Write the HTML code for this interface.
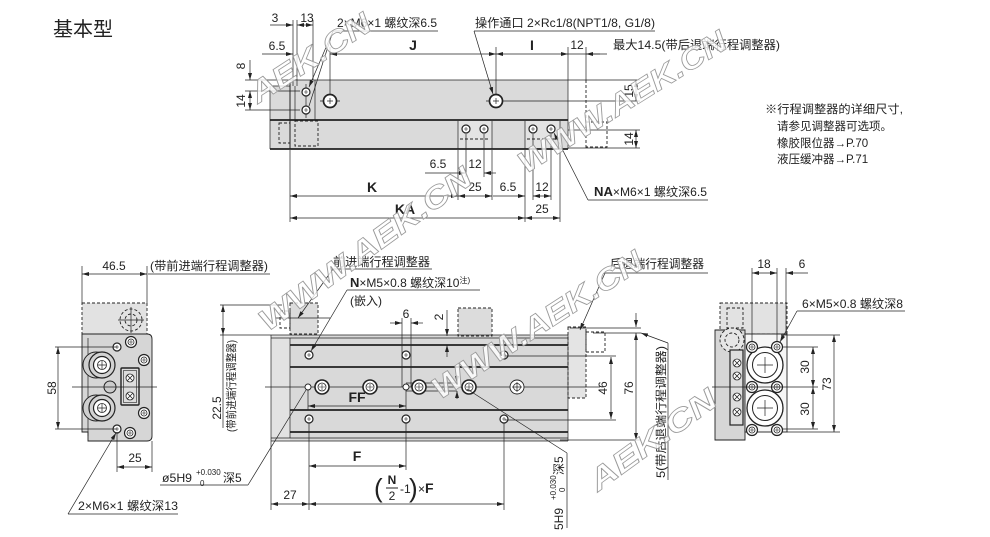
<!DOCTYPE html>
<html><head><meta charset="utf-8"><style>
html,body{margin:0;padding:0;background:#fff;}
svg{display:block;}
.t{stroke:#222;stroke-width:0.7;fill:none}
.m{stroke:#222;stroke-width:1;fill:none}
.k{stroke:#222;stroke-width:1.7;fill:none}
.ds{stroke:#222;stroke-width:0.9;stroke-dasharray:3 2}
.d{stroke:#222;stroke-width:0.7;fill:none;marker-start:url(#a);marker-end:url(#a)}
.e{stroke:#222;stroke-width:0.7;fill:none;marker-end:url(#a)}
text{fill:#222;font-size:12px;font-family:"Liberation Sans","Noto Sans CJK SC",sans-serif}
.b{font-weight:bold;font-size:14px}
.wm text{font-family:"Liberation Sans",sans-serif;font-weight:bold;font-style:italic;font-size:30px;fill:#fff;fill-opacity:0.8;stroke:#9a9a9a;stroke-width:0.8}
</style></head><body>
<svg width="990" height="537" viewBox="0 0 990 537" xmlns="http://www.w3.org/2000/svg">
<defs>
<marker id="a" markerUnits="userSpaceOnUse" markerWidth="8" markerHeight="6" refX="7" refY="3" orient="auto-start-reverse" viewBox="0 0 8 6"><path d="M0,1 L7,3 L0,5z" fill="#222"/></marker>
<g id="h1"><circle r="4" fill="#fff" stroke="#222" stroke-width="1.2"/><path d="M-2,0H2M0,-2V2" stroke="#222" stroke-width="0.6"/></g>
<g id="h2"><circle r="7" fill="#fff" stroke="#222" stroke-width="1.6"/><circle r="4" fill="none" stroke="#222" stroke-width="0.8"/><path d="M-3,0H3M0,-3V3" stroke="#222" stroke-width="0.6"/></g>
<g id="sc"><circle r="5.5" fill="#fff" stroke="#222" stroke-width="1.2"/><circle r="3" fill="none" stroke="#222" stroke-width="0.8"/><path d="M-2,0H2M0,-2V2" stroke="#222" stroke-width="0.6"/></g>
<g id="ox"><circle r="4" fill="#fff" stroke="#222" stroke-width="0.8"/><path d="M-2.6,-2.6L2.6,2.6M-2.6,2.6L2.6,-2.6" stroke="#222" stroke-width="0.8"/></g>
</defs>

<!-- title -->
<text x="53" y="36" style="font-size:20px">基本型</text>

<!-- ============ TOP VIEW ============ -->
<rect x="270" y="86" width="20" height="63" fill="#dadada"/>
<rect x="290" y="80" width="278" height="69" fill="#dadada"/>
<rect x="458" y="121" width="34" height="27" fill="#e3e3e3"/>
<rect x="525" y="121" width="35" height="27" fill="#e3e3e3"/>
<path class="t" d="M245,80H640 M272,86H290 M270,86V149 M568,80V149 M315,80V120 M295,86V120 M245,91H300 M245,110H300 M458,121V149 M492,121V149 M525,121V149 M560,121V149 M306,84V118 M320,101H340 M486,101H640 M568,130H640 M568,148H640"/>
<path class="m" d="M290,82V149"/>
<path class="k" d="M270,120H568 M270,149H568"/>
<path class="ds" fill="none" d="M460,139H490 M527,139H558 M279,123H290V143H279Z M295,121H318V146H295Z M586,80V148 M586,122H607V147H586"/>
<use href="#h1" x="306" y="92"/><use href="#h1" x="306" y="110"/>
<use href="#h1" x="466" y="129"/><use href="#h1" x="484" y="129"/>
<use href="#h1" x="533" y="129"/><use href="#h1" x="551" y="129"/>
<g fill="#fff" stroke="#222"><circle cx="330" cy="101" r="6.5" stroke-width="1.7"/><circle cx="496" cy="101" r="6.5" stroke-width="1.7"/></g>
<path class="t" d="M327,101H333M330,98V104 M493,101H499M496,98V104"/>
<!-- top view extension lines -->
<path class="t" d="M293,20V86 M297,20V86 M313,20V80 M330,47V95 M496,47V95 M568,47V80 M586,47V80 M290,150V222 M458,150V200 M466,134V177 M484,134V177 M492,150V200 M525,150V222 M533,134V200 M551,134V200 M560,150V222"/>
<!-- top dims -->
<line class="e" x1="270" y1="25" x2="293" y2="25"/>
<line class="d" x1="297" y1="25" x2="313" y2="25"/>
<text x="275" y="22" text-anchor="middle">3</text>
<text x="307" y="22" text-anchor="middle">13</text>
<line class="e" x1="262" y1="54" x2="293" y2="54"/>
<text x="277" y="50" text-anchor="middle">6.5</text>
<line class="d" x1="330" y1="54" x2="496" y2="54"/>
<text class="b" x="413" y="50" text-anchor="middle">J</text>
<line class="d" x1="496" y1="54" x2="568" y2="54"/>
<text class="b" x="532" y="50" text-anchor="middle">I</text>
<line class="e" x1="600" y1="54" x2="586" y2="54"/>
<line class="t" x1="568" y1="54" x2="607" y2="54"/>
<text x="577" y="49" text-anchor="middle">12</text>
<text x="613" y="49" textLength="167" lengthAdjust="spacingAndGlyphs">最大14.5(带后退端行程调整器)</text>
<text x="337" y="27" textLength="100" lengthAdjust="spacingAndGlyphs">2×M6×1 螺纹深6.5</text>
<path class="t" d="M333,31H438"/>
<line class="e" x1="333" y1="31" x2="309" y2="87"/>
<line class="t" x1="333" y1="31" x2="309" y2="106"/>
<text x="475" y="27" textLength="180" lengthAdjust="spacingAndGlyphs">操作通口 2×Rc1/8(NPT1/8, G1/8)</text>
<path class="t" d="M474,31H655"/>
<line class="e" x1="474" y1="31" x2="493" y2="94"/>
<!-- left 8/14 -->
<line class="e" x1="250" y1="60" x2="250" y2="80"/>
<line class="d" x1="250" y1="91" x2="250" y2="110"/>
<text transform="translate(245,66) rotate(-90)" text-anchor="middle">8</text>
<text transform="translate(245,101) rotate(-90)" text-anchor="middle">14</text>
<!-- right 15/14 -->
<line class="d" x1="636" y1="80" x2="636" y2="101"/>
<line class="d" x1="636" y1="130" x2="636" y2="148"/>
<text transform="translate(633,91) rotate(-90)" text-anchor="middle">15</text>
<text transform="translate(633,139) rotate(-90)" text-anchor="middle">14</text>
<!-- bottom dims -->
<line class="e" x1="425" y1="173" x2="466" y2="173"/>
<line class="e" x1="496" y1="173" x2="484" y2="173"/>
<text x="438" y="168" text-anchor="middle">6.5</text>
<text x="475" y="168" text-anchor="middle">12</text>
<line class="d" x1="290" y1="196" x2="458" y2="196"/>
<text class="b" x="372" y="192" text-anchor="middle">K</text>
<line class="d" x1="458" y1="196" x2="492" y2="196"/>
<text x="475" y="191" text-anchor="middle">25</text>
<line class="e" x1="493" y1="196" x2="525" y2="196"/>
<text x="508" y="191" text-anchor="middle">6.5</text>
<line class="d" x1="533" y1="196" x2="551" y2="196"/>
<text x="542" y="191" text-anchor="middle">12</text>
<line class="d" x1="290" y1="218" x2="525" y2="218"/>
<text class="b" x="405" y="214" text-anchor="middle">KA</text>
<line class="d" x1="525" y1="218" x2="560" y2="218"/>
<text x="542" y="213" text-anchor="middle">25</text>
<text x="594" y="196" textLength="113" lengthAdjust="spacingAndGlyphs"><tspan font-weight="bold" font-size="13">NA</tspan>×M6×1 螺纹深6.5</text>
<path class="t" d="M588,200H708"/>
<line class="e" x1="588" y1="200" x2="554" y2="133"/>

<!-- notes -->
<text x="765" y="113" style="font-size:11.5px" textLength="138" lengthAdjust="spacingAndGlyphs">※行程调整器的详细尺寸,</text>
<text x="777" y="130" style="font-size:11.5px">请参见调整器可选项。</text>
<text x="777" y="147" style="font-size:11.5px">橡胶限位器→P.70</text>
<text x="777" y="163" style="font-size:11.5px">液压缓冲器→P.71</text>

<!-- ============ BOTTOM LEFT END VIEW ============ -->
<rect x="82" y="303" width="65" height="31" fill="#e2e2e2" class="ds"/>
<circle cx="131" cy="320" r="11" fill="none" class="ds"/>
<circle cx="131" cy="320" r="6" fill="none" class="ds"/>
<path class="t" d="M118,320H144 M131,307V333"/>
<path d="M82,334H147Q152,334 152,339V436Q152,441 147,441H88V432H82Z" fill="#d6d6d6" stroke="#222" stroke-width="0.9"/>
<path class="t" d="M88,338V436"/>
<circle cx="96" cy="365" r="13" fill="#cfcfcf" stroke="#222" stroke-width="1"/>
<circle cx="96" cy="408" r="13" fill="#cfcfcf" stroke="#222" stroke-width="1"/>
<g stroke="#222">
<circle cx="102" cy="365" r="13" fill="#d2d2d2" stroke-width="1.2"/><circle cx="102" cy="365" r="8.5" fill="#fff" stroke-width="1.2"/><circle cx="102" cy="365" r="4.5" fill="none" stroke-width="0.8"/>
<circle cx="102" cy="408" r="13" fill="#d2d2d2" stroke-width="1.2"/><circle cx="102" cy="408" r="8.5" fill="#fff" stroke-width="1.2"/><circle cx="102" cy="408" r="4.5" fill="none" stroke-width="0.8"/>
<circle cx="110" cy="387" r="6" fill="#ccc" stroke-width="1"/>
</g>
<path class="t" d="M98,365H106M102,361V369 M98,408H106M102,404V412"/>
<rect x="121" y="368" width="18" height="37" rx="1" fill="#ddd" stroke="#222" stroke-width="1.4"/>
<rect x="123.5" y="370.5" width="13" height="32" fill="none" stroke="#222" stroke-width="0.6"/>
<use href="#ox" x="130" y="378"/><use href="#ox" x="130" y="396"/>
<use href="#sc" x="131" y="342"/><use href="#sc" x="144" y="360"/><use href="#sc" x="144" y="413"/><use href="#sc" x="130" y="433"/>
<use href="#h1" x="117" y="347"/><use href="#h1" x="117" y="429"/>
<path class="t" d="M72,387H157 M82,266V303 M147,266V303 M55,347H117 M55,429H117 M117,432V472 M152,441V472"/>
<line class="d" x1="82" y1="274" x2="147" y2="274"/>
<text x="114" y="270" text-anchor="middle">46.5</text>
<text x="150" y="270" textLength="118" lengthAdjust="spacingAndGlyphs">(带前进端行程调整器)</text>
<path class="t" d="M148,274H270"/>
<line class="d" x1="58" y1="347" x2="58" y2="429"/>
<text transform="translate(56,388) rotate(-90)" text-anchor="middle">58</text>
<line class="d" x1="117" y1="467" x2="152" y2="467"/>
<text x="135" y="462" text-anchor="middle">25</text>
<text x="78" y="510" textLength="100" lengthAdjust="spacingAndGlyphs">2×M6×1 螺纹深13</text>
<path class="t" d="M68,514H178"/>
<line class="e" x1="68" y1="514" x2="116" y2="433"/>

<!-- ============ BOTTOM MIDDLE SIDE VIEW ============ -->
<rect x="271" y="335" width="297" height="106" fill="#d9d9d9"/>
<rect x="271" y="335" width="19" height="106" fill="#e2e2e2"/>
<rect x="458" y="308" width="34" height="28" fill="#dcdcdc" class="ds"/>
<rect x="290" y="303" width="28" height="31" fill="#dcdcdc" class="ds"/>
<rect x="280" y="311" width="10" height="17" fill="none" class="ds"/>
<rect x="568" y="327" width="18" height="71" fill="#e4e4e4" class="ds"/>
<rect x="586" y="332" width="19" height="20" fill="none" class="ds"/>
<path class="t" d="M275,318H330 M220,335H568 M271,338H568 M271,438H568 M271,441H568 M271,335V441 M290,338V438 M568,335V441 M265,387H600 M406,383H457 M406,391H457"/>
<path class="k" d="M290,345H568 M290,367H568 M290,410H568 M290,432H568"/>
<use href="#h1" x="309" y="355"/><use href="#h1" x="406" y="355"/><use href="#h1" x="504" y="355"/>
<use href="#h1" x="309" y="419"/><use href="#h1" x="406" y="419"/><use href="#h1" x="504" y="419"/>
<circle cx="308" cy="387" r="3" fill="#fff" stroke="#222" stroke-width="0.9"/>
<circle cx="406" cy="387" r="3" fill="#fff" stroke="#222" stroke-width="0.9"/>
<use href="#h2" x="322" y="387"/><use href="#h2" x="370" y="387"/><use href="#h2" x="419" y="387"/><use href="#h2" x="469" y="387"/>
<circle cx="517" cy="387" r="7" fill="#fff" stroke="#222" stroke-width="0.9"/><circle cx="517" cy="387" r="3.5" fill="none" stroke="#222" stroke-width="0.7"/>
<path class="t" d="M512,387H522M517,382V392"/>
<!-- 6 & 2 -->
<path class="t" d="M402,318V387 M411,318V387"/>
<line class="e" x1="390" y1="323" x2="402" y2="323"/>
<line class="e" x1="423" y1="323" x2="411" y2="323"/>
<text x="406" y="318" text-anchor="middle">6</text>
<line class="e" x1="447" y1="310" x2="447" y2="336"/>
<line class="e" x1="447" y1="357" x2="447" y2="345"/>
<text transform="translate(443,317) rotate(-90)" text-anchor="middle">2</text>
<line class="e" x1="457" y1="375" x2="457" y2="383"/>
<line class="e" x1="457" y1="399" x2="457" y2="391"/>
<!-- FF F -->
<path class="t" d="M308,390V410 M406,390V410 M271,441V510 M309,423V510 M406,423V470 M504,423V510"/>
<line class="d" x1="308" y1="406" x2="406" y2="406"/>
<text class="b" x="357" y="402" text-anchor="middle">FF</text>
<line class="d" x1="309" y1="466" x2="406" y2="466"/>
<text class="b" x="357" y="461" text-anchor="middle">F</text>
<text x="374" y="497" style="font-size:26px">(</text>
<text x="392" y="484" text-anchor="middle" style="font-size:12px;font-weight:bold">N</text>
<path d="M386,488H398" stroke="#222" stroke-width="1"/>
<text x="392" y="500" text-anchor="middle">2</text>
<text x="400" y="493">-1</text>
<text x="409" y="497" style="font-size:26px">)</text>
<text x="418" y="493">×<tspan font-weight="bold" font-size="14">F</tspan></text>
<line class="d" x1="271" y1="504" x2="309" y2="504"/>
<text x="290" y="499" text-anchor="middle">27</text>
<line class="d" x1="309" y1="504" x2="504" y2="504"/>
<!-- 22.5 -->
<path class="t" d="M220,305H282 M223,335V428"/>
<line class="d" x1="223" y1="305" x2="223" y2="335"/>
<text transform="translate(221,408) rotate(-90)" text-anchor="middle">22.5</text>
<text transform="translate(235,386) rotate(-90)" text-anchor="middle" style="font-size:11px" textLength="92" lengthAdjust="spacingAndGlyphs">(带前进端行程调整器)</text>
<!-- labels -->
<text x="333" y="266" textLength="97" lengthAdjust="spacingAndGlyphs">前进端行程调整器</text>
<path class="t" d="M333,269H432"/>
<line class="e" x1="333" y1="269" x2="298" y2="318"/>
<text x="350" y="287"><tspan font-weight="bold" font-size="13">N</tspan>×M5×0.8 螺纹深10<tspan font-size="8" dy="-4">注)</tspan></text>
<text x="350" y="305" textLength="32" lengthAdjust="spacingAndGlyphs">(嵌入)</text>
<path class="t" d="M347,290H480"/>
<line class="e" x1="347" y1="290" x2="311" y2="351"/>
<text x="162" y="482" textLength="30" lengthAdjust="spacingAndGlyphs">ø5H9</text>
<text x="196" y="475" style="font-size:8px">+0.030</text>
<text x="200" y="486" style="font-size:8px">0</text>
<text x="223" y="482">深5</text>
<path class="t" d="M160,485H248 M248,485L306,390"/>
<text x="610" y="268" textLength="94" lengthAdjust="spacingAndGlyphs">后退端行程调整器</text>
<path class="t" d="M605,273H708"/>
<line class="e" x1="605" y1="273" x2="580" y2="330"/>
<!-- 46 / 76 -->
<path class="t" d="M505,356H616 M505,420H616 M570,328H641 M593,333H641 M560,440H641"/>
<line class="d" x1="611" y1="357" x2="611" y2="419"/>
<text transform="translate(607,388) rotate(-90)" text-anchor="middle">46</text>
<line class="d" x1="636" y1="333" x2="636" y2="440"/>
<line class="e" x1="636" y1="313" x2="636" y2="327"/>
<text transform="translate(633,388) rotate(-90)" text-anchor="middle">76</text>
<line class="e" x1="668" y1="343" x2="641" y2="333"/>
<path class="t" d="M668,343V480"/>
<text transform="translate(665,478) rotate(-90)" style="font-size:11.5px" textLength="132" lengthAdjust="spacingAndGlyphs">5(带后退端行程调整器)</text>
<!-- 5H9 rotated -->
<path class="t" d="M567,453L467,389 M567,453V528"/>
<g transform="translate(563,530) rotate(-90)">
<text x="0" y="0">5H9</text>
<text x="30" y="-7" style="font-size:8px">+0.030</text>
<text x="38" y="2" style="font-size:8px">0</text>
<text x="55" y="0">深5</text>
</g>

<!-- ============ BOTTOM RIGHT END VIEW ============ -->
<rect x="720" y="303" width="67" height="31" fill="#e2e2e2" class="ds"/>
<rect x="727" y="308" width="16" height="20" fill="none" class="ds"/>
<path d="M715,330H745V440H715Z" fill="#d6d6d6" stroke="#222" stroke-width="0.9"/>
<rect x="745" y="334" width="42" height="98" fill="#f6f6f6" stroke="#222" stroke-width="0.9"/>
<circle cx="732" cy="340" r="12" fill="#e6e6e6" class="ds"/>
<circle cx="732" cy="340" r="7" fill="none" class="ds"/>
<rect x="730" y="350" width="13" height="75" fill="#ddd" stroke="#222" stroke-width="1.2"/>
<use href="#ox" x="737" y="363"/><use href="#ox" x="737" y="376"/><use href="#ox" x="737" y="397"/><use href="#ox" x="737" y="412"/>
<g stroke="#222" fill="#fff">
<circle cx="765" cy="365" r="18" stroke-width="1.3"/><circle cx="765" cy="365" r="12.5" stroke-width="1"/>
<circle cx="765" cy="408" r="18" stroke-width="1.3"/><circle cx="765" cy="408" r="12.5" stroke-width="1"/>
</g>
<path class="t" d="M757,365H773M765,357V373 M757,408H773M765,400V416"/>
<use href="#sc" x="752" y="347"/><use href="#sc" x="777" y="347"/>
<use href="#sc" x="752" y="387"/><use href="#sc" x="777" y="387"/>
<use href="#sc" x="752" y="430"/><use href="#sc" x="777" y="430"/>
<path class="t" d="M712,387H793 M752,268V342 M777,268V342 M786,268V334 M781,335H840 M782,347H818 M793,387H818 M782,429H818 M787,432H840"/>
<line class="d" x1="752" y1="273" x2="777" y2="273"/>
<line class="e" x1="808" y1="273" x2="786" y2="273"/>
<text x="764" y="268" text-anchor="middle">18</text>
<text x="802" y="268" text-anchor="middle">6</text>
<text x="802" y="308" textLength="101" lengthAdjust="spacingAndGlyphs">6×M5×0.8 螺纹深8</text>
<path class="t" d="M797,311H905"/>
<line class="e" x1="797" y1="311" x2="780" y2="342"/>
<line class="d" x1="813" y1="347" x2="813" y2="387"/>
<line class="d" x1="813" y1="387" x2="813" y2="429"/>
<line class="d" x1="834" y1="335" x2="834" y2="432"/>
<text transform="translate(809,367) rotate(-90)" text-anchor="middle">30</text>
<text transform="translate(809,409) rotate(-90)" text-anchor="middle">30</text>
<text transform="translate(831,384) rotate(-90)" text-anchor="middle">73</text>

<!-- watermarks -->
<g class="wm">
<text transform="translate(258,104) rotate(-33)" textLength="138" lengthAdjust="spacingAndGlyphs">AEK.CN</text>
<text transform="translate(526,174) rotate(-32)" textLength="240" lengthAdjust="spacingAndGlyphs">WWW.AEK.CN</text>
<text transform="translate(268,332) rotate(-36)" textLength="255" lengthAdjust="spacingAndGlyphs">WWW.AEK.CN</text>
<text transform="translate(440,400) rotate(-33)" textLength="245" lengthAdjust="spacingAndGlyphs">WWW.AEK.CN</text>
<text transform="translate(598,492) rotate(-36)" textLength="150" lengthAdjust="spacingAndGlyphs">AEK.CN</text>
</g>
</svg>
</body></html>
